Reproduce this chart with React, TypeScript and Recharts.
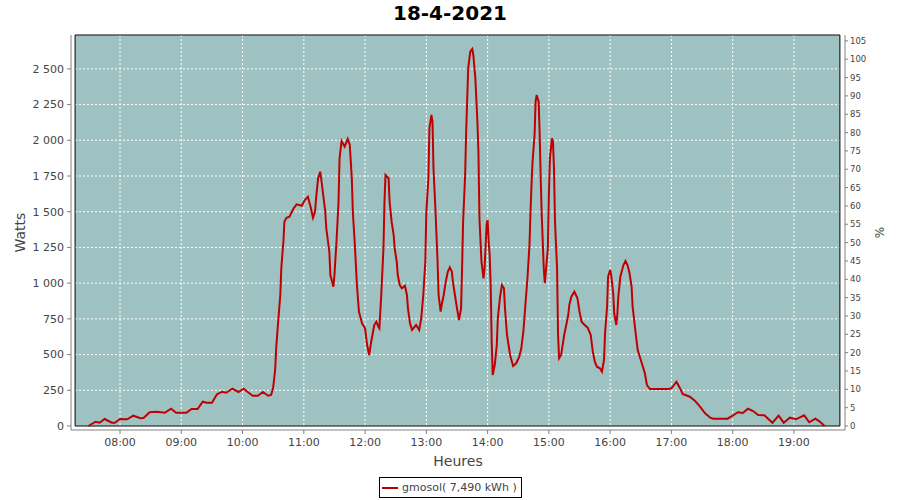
import { CartesianGrid, Line, LineChart, ReferenceArea, XAxis, YAxis } from 'recharts';

// production readings (time of day, watts)
const times = [
  '07:29', '07:36', '07:40', '07:45', '07:52', '07:55', '08:00', '08:07', '08:13', '08:20',
  '08:23', '08:29', '08:36', '08:44', '08:50', '08:55', '09:05', '09:10', '09:16', '09:21',
  '09:25', '09:30', '09:35', '09:40', '09:44', '09:50', '09:56', '10:01', '10:06', '10:10',
  '10:15', '10:20', '10:25', '10:28', '10:30', '10:32', '10:33', '10:35', '10:37', '10:38',
  '10:40', '10:41', '10:43', '10:46', '10:50', '10:53', '10:58', '11:01', '11:04', '11:07',
  '11:09', '11:11', '11:12', '11:14', '11:16', '11:17', '11:19', '11:21', '11:22', '11:25',
  '11:26', '11:29', '11:30', '11:32', '11:34', '11:35', '11:37', '11:40', '11:43', '11:45',
  '11:47', '11:48', '11:50', '11:52', '11:54', '11:57', '12:00', '12:02', '12:04', '12:06',
  '12:09', '12:11', '12:13', '12:14', '12:16', '12:18', '12:19', '12:20', '12:23', '12:24',
  '12:26', '12:28', '12:29', '12:31', '12:32', '12:34', '12:36', '12:39', '12:41', '12:42',
  '12:44', '12:46', '12:50', '12:53', '12:55', '12:57', '12:59', '13:00', '13:02', '13:03',
  '13:05', '13:06', '13:07', '13:09', '13:11', '13:12', '13:14', '13:15', '13:17', '13:19',
  '13:21', '13:23', '13:25', '13:26', '13:28', '13:30', '13:32', '13:34', '13:35', '13:36',
  '13:38', '13:39', '13:41', '13:43', '13:45', '13:46', '13:48', '13:50', '13:51', '13:52',
  '13:54', '13:56', '13:57', '13:59', '14:00', '14:01', '14:02', '14:03', '14:04', '14:05',
  '14:07', '14:09', '14:10', '14:12', '14:14', '14:16', '14:17', '14:19', '14:22', '14:25',
  '14:28', '14:31', '14:33', '14:35', '14:37', '14:39', '14:41', '14:42', '14:43', '14:44',
  '14:46', '14:47', '14:48', '14:50', '14:51', '14:52', '14:53', '14:55', '14:56', '14:57',
  '14:59', '15:00', '15:01', '15:03', '15:04', '15:05', '15:06', '15:08', '15:09', '15:10',
  '15:12', '15:13', '15:15', '15:17', '15:19', '15:20', '15:22', '15:25', '15:28', '15:30',
  '15:32', '15:35', '15:38', '15:41', '15:43', '15:45', '15:47', '15:50', '15:52', '15:54',
  '15:55', '15:57', '15:58', '16:00', '16:01', '16:03', '16:04', '16:06', '16:07', '16:08',
  '16:10', '16:13', '16:15', '16:17', '16:19', '16:21', '16:22', '16:25', '16:27', '16:31',
  '16:34', '16:36', '16:39', '16:47', '16:57', '17:00', '17:05', '17:08', '17:11', '17:18',
  '17:23', '17:28', '17:33', '17:38', '17:41', '17:47', '17:55', '18:00', '18:05', '18:10',
  '18:15', '18:20', '18:25', '18:31', '18:36', '18:39', '18:45', '18:50', '18:56', '19:02',
  '19:10', '19:15', '19:21', '19:25', '19:30',
];

const watts = [
  0, 30, 23, 49, 23, 23, 49, 47, 72, 54,
  56, 96, 100, 93, 121, 93, 93, 119, 119, 170,
  163, 163, 222, 240, 233, 261, 238, 261, 233, 212,
  212, 238, 212, 217, 270, 400, 550, 740, 920, 1110,
  1290, 1430, 1458, 1465, 1524, 1552, 1542, 1582, 1605, 1524,
  1458, 1500, 1594, 1734, 1780, 1734, 1617, 1500, 1384, 1220,
  1057, 975, 1057, 1290, 1570, 1874, 1995, 1955, 2009, 1967,
  1734, 1500, 1267, 987, 800, 719, 684, 567, 497, 590,
  707, 730, 695, 684, 940, 1244, 1570, 1757, 1734, 1570,
  1430, 1337, 1244, 1150, 1057, 987, 964, 982, 917, 824,
  719, 672, 707, 672, 754, 917, 1150, 1500, 1734, 2084,
  2177, 2130, 1804, 1500, 1150, 917, 800, 847, 917, 1010,
  1080, 1111, 1080, 1010, 917, 824, 742, 824, 1104, 1430,
  1757, 2060, 2504, 2620, 2639, 2597, 2433, 2130, 1920, 1453,
  1150, 1034, 1104, 1407, 1442, 1290, 1200, 987, 590, 357,
  427, 567, 754, 894, 987, 964, 824, 637, 497, 420,
  439, 485, 544, 660, 847, 1034, 1267, 1500, 1687, 1850,
  2037, 2270, 2317, 2270, 2037, 1734, 1477, 1104, 999, 1080,
  1244, 1617, 1874, 2014, 1990, 1804, 1430, 1104, 637, 474,
  497, 544, 637, 707, 777, 847, 905, 940, 894, 800,
  730, 707, 688, 637, 520, 450, 415, 404, 380, 462,
  649, 835, 1045, 1092, 1057, 929, 789, 707, 777, 905,
  1045, 1127, 1155, 1127, 1069, 975, 835, 649, 532, 439,
  369, 287, 259, 259, 259, 264, 310, 270, 224, 205,
  177, 135, 89, 58, 51, 51, 51, 72, 96, 91,
  121, 105, 77, 75, 42, 23, 72, 23, 58, 47,
  75, 26, 51, 33, 0,
];

const hourTicks = ['08:00', '09:00', '10:00', '11:00', '12:00', '13:00', '14:00', '15:00', '16:00', '17:00', '18:00', '19:00'];
const wattTicks = [0, 250, 500, 750, 1000, 1250, 1500, 1750, 2000, 2250, 2500];
const percentTicks = [0, 5, 10, 15, 20, 25, 30, 35, 40, 45, 50, 55, 60, 65, 70, 75, 80, 85, 90, 95, 100, 105];

const TEAL = '#9ec2c2';
const RED = '#c00000';
const AXIS = '#808080';
const FONT = '"DejaVu Sans", sans-serif';

const toMinutes = (t: string) => {
  const [h, m] = t.split(':').map(Number);
  return h * 60 + m;
};
const toLabel = (v: number) =>
  `${String(Math.floor(v / 60)).padStart(2, '0')}:${String(v % 60).padStart(2, '0')}`;
const formatWatts = (v: number) =>
  v >= 1000 ? `${Math.floor(v / 1000)} ${String(v % 1000).padStart(3, '0')}` : String(v);

const chartData = times.map((t, i) => ({ minute: toMinutes(t), watts: watts[i] }));

// axes sit a few pixels outside the coloured plot box, like the original
const xDomain = [432, 1190];
const plotX = [436, 1185];
const wattDomain = [-28, 2737];
const percentDomain = [-1.09, 106.6];

export default function App() {
  return (
    <div style={{ position: 'absolute', left: 0, top: 0, width: 900, height: 500, background: '#fff', fontFamily: FONT }}>
      <div
        style={{
          position: 'absolute',
          top: 1,
          left: 0,
          width: 900,
          textAlign: 'center',
          fontSize: 20,
          fontWeight: 'bold',
          color: '#000',
        }}
      >
        18-4-2021
      </div>
      <LineChart
        width={900}
        height={500}
        data={chartData}
        margin={{ top: 35, right: 10, bottom: 28, left: 0 }}
        style={{ fontFamily: FONT }}
      >
        <CartesianGrid yAxisId="left" fill={TEAL} stroke="#ffffff" strokeDasharray="2 2" />
        <ReferenceArea yAxisId="left" x1={xDomain[0]} x2={plotX[0]} y1={wattDomain[0]} y2={wattDomain[1]} fill="#fff" fillOpacity={1} stroke="none" />
        <ReferenceArea yAxisId="left" x1={plotX[1]} x2={xDomain[1]} y1={wattDomain[0]} y2={wattDomain[1]} fill="#fff" fillOpacity={1} stroke="none" />
        <ReferenceArea yAxisId="left" x1={xDomain[0]} x2={xDomain[1]} y1={wattDomain[0]} y2={0} fill="#fff" fillOpacity={1} stroke="none" />
        <ReferenceArea yAxisId="left" x1={plotX[0]} x2={plotX[1]} y1={0} y2={wattDomain[1]} fill="none" stroke="#000" strokeWidth={1} />
        <XAxis
          dataKey="minute"
          type="number"
          domain={xDomain}
          allowDataOverflow
          ticks={hourTicks.map(toMinutes)}
          tickFormatter={toLabel}
          tick={{ fontSize: 11, fill: '#444', fontFamily: FONT }}
          tickSize={4}
          tickMargin={4}
          stroke={AXIS}
          height={42}
          label={{ value: 'Heures', position: 'insideBottom', offset: 6, fontSize: 14, fill: '#444', fontFamily: FONT }}
        />
        <YAxis
          yAxisId="left"
          type="number"
          domain={wattDomain}
          allowDataOverflow
          ticks={wattTicks}
          tickFormatter={formatWatts}
          tick={{ fontSize: 11, fill: '#444', fontFamily: FONT }}
          tickSize={4}
          tickMargin={3}
          stroke={AXIS}
          width={71}
          label={{ value: 'Watts', angle: -90, position: 'insideLeft', offset: 20, fontSize: 14, fill: '#444', fontFamily: FONT, style: { textAnchor: 'middle' } }}
        />
        <YAxis
          yAxisId="right"
          orientation="right"
          type="number"
          domain={percentDomain}
          allowDataOverflow
          ticks={percentTicks}
          tick={{ fontSize: 8.5, fill: '#444', fontFamily: FONT }}
          tickSize={3}
          tickMargin={2}
          stroke={AXIS}
          width={45}
          label={{ value: '%', angle: -90, position: 'insideRight', offset: 10, fontSize: 12, fill: '#444', fontFamily: FONT, style: { textAnchor: 'middle' } }}
        />
        <Line
          yAxisId="left"
          type="linear"
          dataKey="watts"
          stroke={RED}
          strokeWidth={2}
          dot={false}
          isAnimationActive={false}
        />
      </LineChart>
      <div
        style={{
          position: 'absolute',
          left: 379,
          top: 477,
          width: 141,
          height: 19,
          border: '1px solid #000',
          display: 'flex',
          alignItems: 'center',
          fontSize: 11,
          color: '#444',
          whiteSpace: 'nowrap',
          overflow: 'hidden',
        }}
      >
        <span style={{ display: 'inline-block', width: 16, height: 2, background: RED, marginLeft: 2, marginRight: 4, flexShrink: 0 }} />
        <span>gmosol( 7,490 kWh )</span>
      </div>
    </div>
  );
}
